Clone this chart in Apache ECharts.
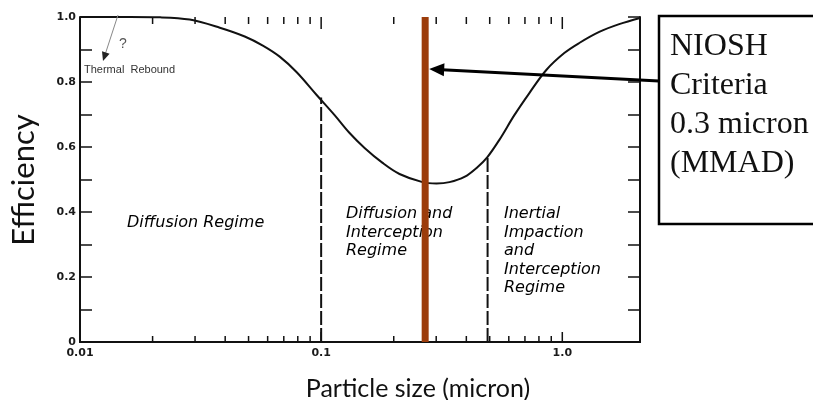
<!DOCTYPE html>
<html><head><meta charset="utf-8">
<script src="https://cdn.jsdelivr.net/npm/echarts@6/dist/echarts.min.js"></script>
<style>html,body{margin:0;padding:0;background:#fff}#c{width:813px;height:400px}</style>
</head><body><div id="c"></div>
<script>
// ---- data ----
const particleSize = [0.01, 0.0161, 0.0215, 0.0285, 0.038, 0.0482, 0.0573, 0.0673, 0.0792, 0.0958, 0.1137, 0.1312, 0.1514, 0.1798, 0.2113, 0.2632, 0.3008, 0.3404, 0.3928, 0.4446, 0.4891, 0.5483, 0.6327, 0.7302, 0.8584, 1.019, 1.176, 1.423, 1.722, 2.1];
const efficiency   = [1.0, 1.0, 0.999, 0.992, 0.967, 0.940, 0.912, 0.878, 0.830, 0.760, 0.698, 0.643, 0.597, 0.551, 0.517, 0.492, 0.488, 0.492, 0.508, 0.538, 0.569, 0.622, 0.698, 0.766, 0.837, 0.889, 0.920, 0.954, 0.978, 0.997];
const regimeBoundX = [0.1, 0.49];
const regimeBoundTop = [0.752, 0.569];
const nioshSize = 0.27;
const xLabels = {0.01: '0.01', 0.1: '0.1', 1: '1.0'};
const yLabels = ['0', '0.2', '0.4', '0.6', '0.8', '1.0'];
const majorTicksX = [0.1, 1];
const minorTicksX = [0.02, 0.03, 0.04, 0.05, 0.06, 0.07, 0.08, 0.09, 0.2, 0.3, 0.4, 0.5, 0.6, 0.7, 0.8, 0.9];
const xRange = [0.01, 2.1];
const regimeTexts = ['Diffusion Regime', 'Diffusion and\nInterception\nRegime', 'Inertial\nImpaction\nand\nInterception\nRegime'];
const nioshText = 'NIOSH\nCriteria\n0.3 micron\n(MMAD)';

const INK = '#111';
const chart = echarts.init(document.getElementById('c'), null, {renderer: 'canvas'});

function xFmt(v) {
  for (const k in xLabels) { if (Math.abs(Math.log10(v) - Math.log10(+k)) < 1e-6) return xLabels[k]; }
  return '';
}
function yFmt(v) {
  const i = Math.round(v * 10);
  if (i % 2 !== 0) return '';
  return yLabels[i / 2] || '';
}
const labelFont = {fontFamily: 'DejaVu Sans', fontWeight: 'bold', fontSize: 11, color: '#1a1a1a'};

const tickData = majorTicksX.map(v => [v, 1]).concat(minorTicksX.map(v => [v, 0]));

const option = {
  animation: false,
  backgroundColor: '#fff',
  grid: {left: 80, right: 173, top: 17, bottom: 58},
  xAxis: [
    {type: 'log', logBase: 10, min: xRange[0], max: xRange[1], position: 'bottom',
     axisLine: {show: true, lineStyle: {color: INK, width: 2}},
     axisTick: {show: false},
     axisLabel: Object.assign({formatter: xFmt, margin: 6, showMaxLabel: false}, labelFont),
     splitLine: {show: false}, minorTick: {show: false}},
    {type: 'log', logBase: 10, min: xRange[0], max: xRange[1], position: 'top',
     axisLine: {show: true, lineStyle: {color: INK, width: 2}},
     axisTick: {show: false},
     axisLabel: {show: false}, splitLine: {show: false}}
  ],
  yAxis: [
    {type: 'value', min: 0, max: 1, interval: 0.1, position: 'left',
     axisLine: {show: true, lineStyle: {color: INK, width: 2}},
     axisTick: {show: true, inside: true, length: 12, lineStyle: {color: INK, width: 1.5}},
     axisLabel: Object.assign({formatter: yFmt, margin: 4}, labelFont),
     splitLine: {show: false}},
    {type: 'value', min: 0, max: 1, interval: 0.1, position: 'right',
     axisLine: {show: true, lineStyle: {color: INK, width: 2}},
     axisTick: {show: true, inside: true, length: 12, lineStyle: {color: INK, width: 1.5}},
     axisLabel: {show: false}, splitLine: {show: false}}
  ],
  series: [
    {type: 'custom', xAxisIndex: 0, yAxisIndex: 0, z: 3, clip: false,
     data: tickData,
     renderItem: function (params, api) {
       const x = api.coord([api.value(0), 0])[0];
       const major = api.value(1) === 1;
       const yb = api.coord([1, 0])[1];
       const yt = api.coord([1, 1])[1];
       return {type: 'group', children: [
         {type: 'line', shape: {x1: x, y1: yb, x2: x, y2: yb - (major ? 10 : 6)}, style: {stroke: INK, lineWidth: 1.5}},
         {type: 'line', shape: {x1: x, y1: yt, x2: x, y2: yt + (major ? 12 : 7)}, style: {stroke: INK, lineWidth: 1.5}}
       ]};
     }},
    {type: 'line', name: 'efficiency', smooth: 0.35, symbol: 'none', z: 4,
     data: particleSize.map((x, i) => [x, efficiency[i]]),
     lineStyle: {color: INK, width: 2}},
    ...regimeBoundX.map((x, i) => ({
      type: 'line', symbol: 'none', z: 3,
      data: [[x, 0], [x, regimeBoundTop[i]]],
      lineStyle: {color: INK, width: 2, type: [14, 3]}
    })),
    {type: 'line', symbol: 'none', z: 6,
     data: [[nioshSize, 0], [nioshSize, 1]],
     lineStyle: {color: '#9C3C0B', width: 7, cap: 'butt'}}
  ]
};
chart.setOption(option);

// ---- annotations ----
function arrow(tail, tip, headLen, headHalf, color, lw, lineColor) {
  const dx = tip[0] - tail[0], dy = tip[1] - tail[1];
  const L = Math.hypot(dx, dy), ux = dx / L, uy = dy / L, nx = -uy, ny = ux;
  const bx = tip[0] - ux * headLen, by = tip[1] - uy * headLen;
  return [
    {type: 'line', z: 20, shape: {x1: tail[0], y1: tail[1], x2: bx + ux * 2, y2: by + uy * 2}, style: {stroke: lineColor || color, lineWidth: lw}},
    {type: 'polygon', z: 20, shape: {points: [tip, [bx + nx * headHalf, by + ny * headHalf], [bx - nx * headHalf, by - ny * headHalf]]}, style: {fill: color}}
  ];
}
const nioshTip = chart.convertToPixel({xAxisIndex: 0, yAxisIndex: 0}, [nioshSize, 0.84]);
const regimeStyle = {fontFamily: 'DejaVu Sans', fontStyle: 'italic', fontSize: 16, fill: '#000', lineHeight: 18.5};

chart.setOption({
  graphic: [
    {type: 'text', z: 1, left: 127, top: 214, style: Object.assign({text: regimeTexts[0]}, regimeStyle)},
    {type: 'text', z: 1, left: 346, top: 205, style: Object.assign({text: regimeTexts[1]}, regimeStyle)},
    {type: 'text', z: 1, left: 504, top: 205, style: Object.assign({text: regimeTexts[2]}, regimeStyle)},
    {type: 'text', z: 10, left: 84, top: 64, style: {text: 'Thermal  Rebound', fontFamily: 'Liberation Sans', fontSize: 11, fill: '#333'}},
    {type: 'text', z: 10, left: 119, top: 37, style: {text: '?', fontFamily: 'Liberation Sans', fontSize: 14, fill: '#555'}},
    ...arrow([118, 15], [103, 61], 9, 4, '#222', 1, '#888'),
    {type: 'rect', z: 15, shape: {x: 659, y: 16, width: 200, height: 208}, style: {fill: '#fff', stroke: '#000', lineWidth: 2.5}},
    {type: 'text', z: 16, left: 670, top: 27, style: {text: nioshText, fontFamily: 'Liberation Serif', fontSize: 32, lineHeight: 39, fill: '#111'}},
    ...arrow([659, 81], [nioshTip[0] + 4, nioshTip[1]], 15, 6.5, '#000', 3),
    {type: 'text', z: 10, rotation: Math.PI / 2, x: 8, y: 180, style: {text: 'Efficiency', fontFamily: 'Lato', fontSize: 31, fill: '#111', align: 'center', verticalAlign: 'top'}},
    {type: 'text', z: 10, x: 418, y: 389, style: {text: 'Particle size (micron)', fontFamily: 'Lato', fontSize: 25, fill: '#111', align: 'center', verticalAlign: 'middle'}}
  ]
});
</script>
</body></html>
